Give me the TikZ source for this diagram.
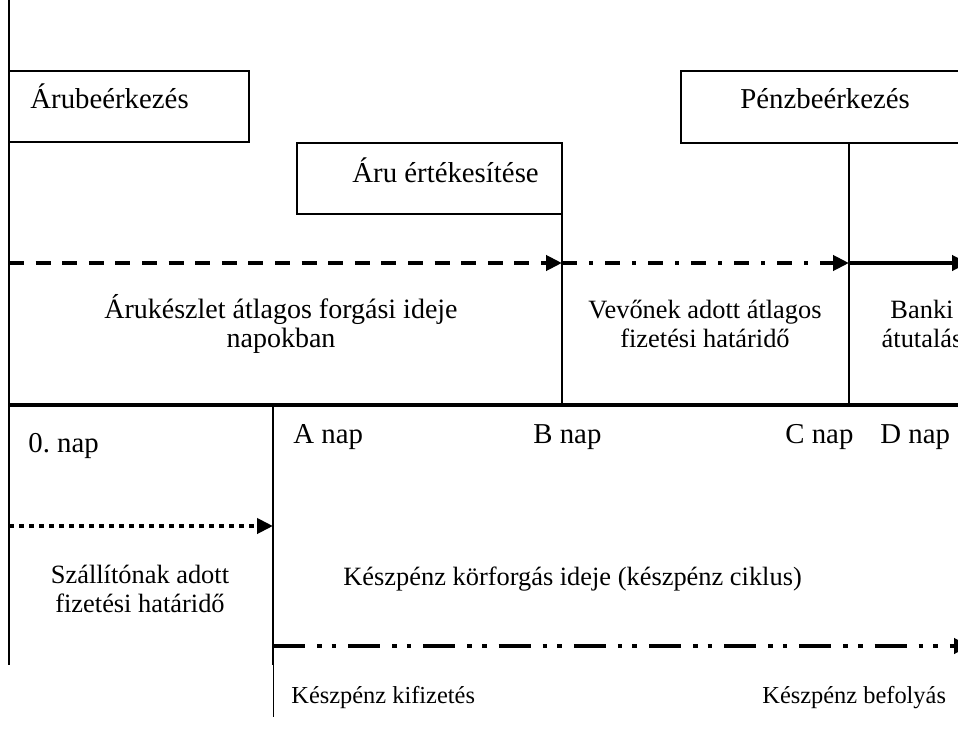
\documentclass[tikz,border=0pt]{standalone}
\usepackage{fontspec}
\setmainfont{Liberation Serif}
\usetikzlibrary{arrows.meta}
\frenchspacing
\begin{document}
\begin{tikzpicture}[x=0.5pt,y=-0.5pt,
  box/.style={draw, line width=1pt, inner sep=0pt, outer sep=0pt, anchor=north west},
  lbl/.style={inner sep=0pt, anchor=base west},
  mlbl/.style={inner sep=0pt, align=center, anchor=base},
  big/.style={font=\fontsize{14.4pt}{17pt}\selectfont},
  mid/.style={font=\fontsize{13.2pt}{14.5pt}\selectfont},
  thinline/.style={line width=1pt},
  arr/.style={line width=2pt, -{Triangle[length=8pt,width=7.5pt]}},
  dashA/.style={dash pattern=on 7.5pt off 5.8pt},
  dashdotA/.style={dash pattern=on 7.5pt off 6pt on 2pt off 6pt},
  dotA/.style={dash pattern=on 2.5pt off 2.5pt},
  dashdotdotA/.style={dash pattern=on 16pt off 6pt on 2.3pt off 5pt on 2.3pt off 6pt}]
\useasboundingbox (0,0) rectangle (958,738);
\clip (0,0) rectangle (958,738);

% boxes
\node[box, minimum width=120pt, minimum height=35.5pt] (arub) at (9,71) {};
\node[box, minimum width=132.5pt, minimum height=35.5pt] (aruert) at (297,143) {};
\node[box, minimum width=145pt, minimum height=36pt] (penz) at (681,71) {};
\node[lbl, big] (tarub) at (30,109) {Árubeérkezés};
\node[lbl, big] (taruert) at (352,182) {Áru értékesítése};
\node[lbl, big] (tpenz) at (740,109) {Pénzbeérkezés};

% coordinates
\coordinate (top0) at (9,0);
\coordinate (bot0) at (9,665);
\coordinate (ax0) at (9,405);
\coordinate (axE) at (962,405);
\coordinate (Bax) at (562,405);
\coordinate (Cax) at (849,405);
\coordinate (Cup) at (849,143);
\coordinate (Aax) at (273,405);
\coordinate (Amid) at (273,665);
\coordinate (Abot) at (273,717);
\coordinate (r0) at (9,263);
\coordinate (rB) at (562,263);
\coordinate (rC) at (849,263);
\coordinate (rE) at (968,263);
\coordinate (d0) at (9,526);
\coordinate (dA) at (273,526);
\coordinate (cA) at (273,646);
\coordinate (cE) at (970,646);

% frame lines
\draw[thinline] (top0) -- (bot0);
\draw[thinline] (aruert.south east) -- (Bax);
\draw[thinline] (Cup) -- (Cax);
\draw[line width=2pt] (ax0) -- (axE);
\draw[thinline] (Aax) -- (Amid);
\draw[line width=0.5pt] (Amid) -- (Abot);

% arrows
\draw[arr, dashA] (r0) -- (rB);
\draw[arr, dashdotA] (rB) -- (rC);
\draw[arr] (rC) -- (rE);
\draw[arr, dotA] (d0) -- (dA);
\draw[arr, dashdotdotA] (cA) -- (cE);

% texts (base anchor = last line's baseline)
\node[mlbl, font=\fontsize{14pt}{14.5pt}\selectfont] (t1) at (281,347) {Árukészlet átlagos forgási ideje\\napokban};
\node[mlbl, mid] (t2) at (705,347) {Vevőnek adott átlagos\\fizetési határidő};
\node[mlbl, mid] (t3) at (922,347) {Banki\\átutalás};
\node[lbl, big] (n0) at (28,452) {0. nap};
\node[lbl, big] (nA) at (293,443) {A nap};
\node[lbl, big] (nB) at (533,443) {B nap};
\node[lbl, big] (nC) at (785,443) {C nap};
\node[lbl, big] (nD) at (880,443) {D nap};
\node[mlbl, mid] (t4) at (140,612) {Szállítónak adott\\fizetési határidő};
\node[lbl, mid] (t5) at (343,585) {Készpénz körforgás ideje (készpénz ciklus)};
\node[lbl, font=\fontsize{12.2pt}{14pt}\selectfont] (t6) at (291,703) {Készpénz kifizetés};
\node[lbl, font=\fontsize{12.2pt}{14pt}\selectfont] (t7) at (762,703) {Készpénz befolyás};
\end{tikzpicture}
\end{document}
